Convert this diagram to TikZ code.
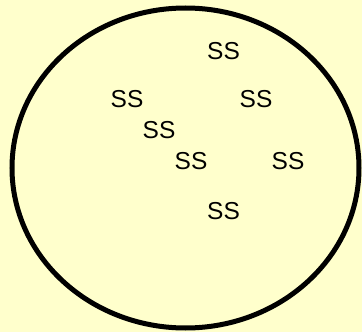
\documentclass[tikz,border=0pt]{standalone}
\usepackage{fontspec}
\setmainfont{Liberation Sans}
\usepackage{tikz}
\usetikzlibrary{positioning}
\definecolor{paleyellow}{HTML}{FFFFCC}

\begin{document}
\begin{tikzpicture}[x=1pt,y=-1pt,
    lbl/.style={font=\fontsize{24.5}{26}\selectfont, inner sep=0pt}]
    % Background
    \fill[paleyellow] (0,0) rectangle (362,332);
    \useasboundingbox (0,0) rectangle (362,332);

    % Centre of the set
    \coordinate (M) at (185.5,168);

    % Set outline
    \draw[line width=5pt] (M) ellipse [x radius=173.5, y radius=160];

    % Elements
    \node[lbl] (s1) at (223.5,51) {SS};
    \node[lbl] (s2) at (127,99) {SS};
    \node[lbl] (s3) at (256,99) {SS};
    \node[lbl] (s4) at (159,130) {SS};
    \node[lbl] (s5) at (191,161) {SS};
    \node[lbl] (s6) at (288,161) {SS};
    \node[lbl] (s7) at (223.5,211) {SS};
\end{tikzpicture}
\end{document}
